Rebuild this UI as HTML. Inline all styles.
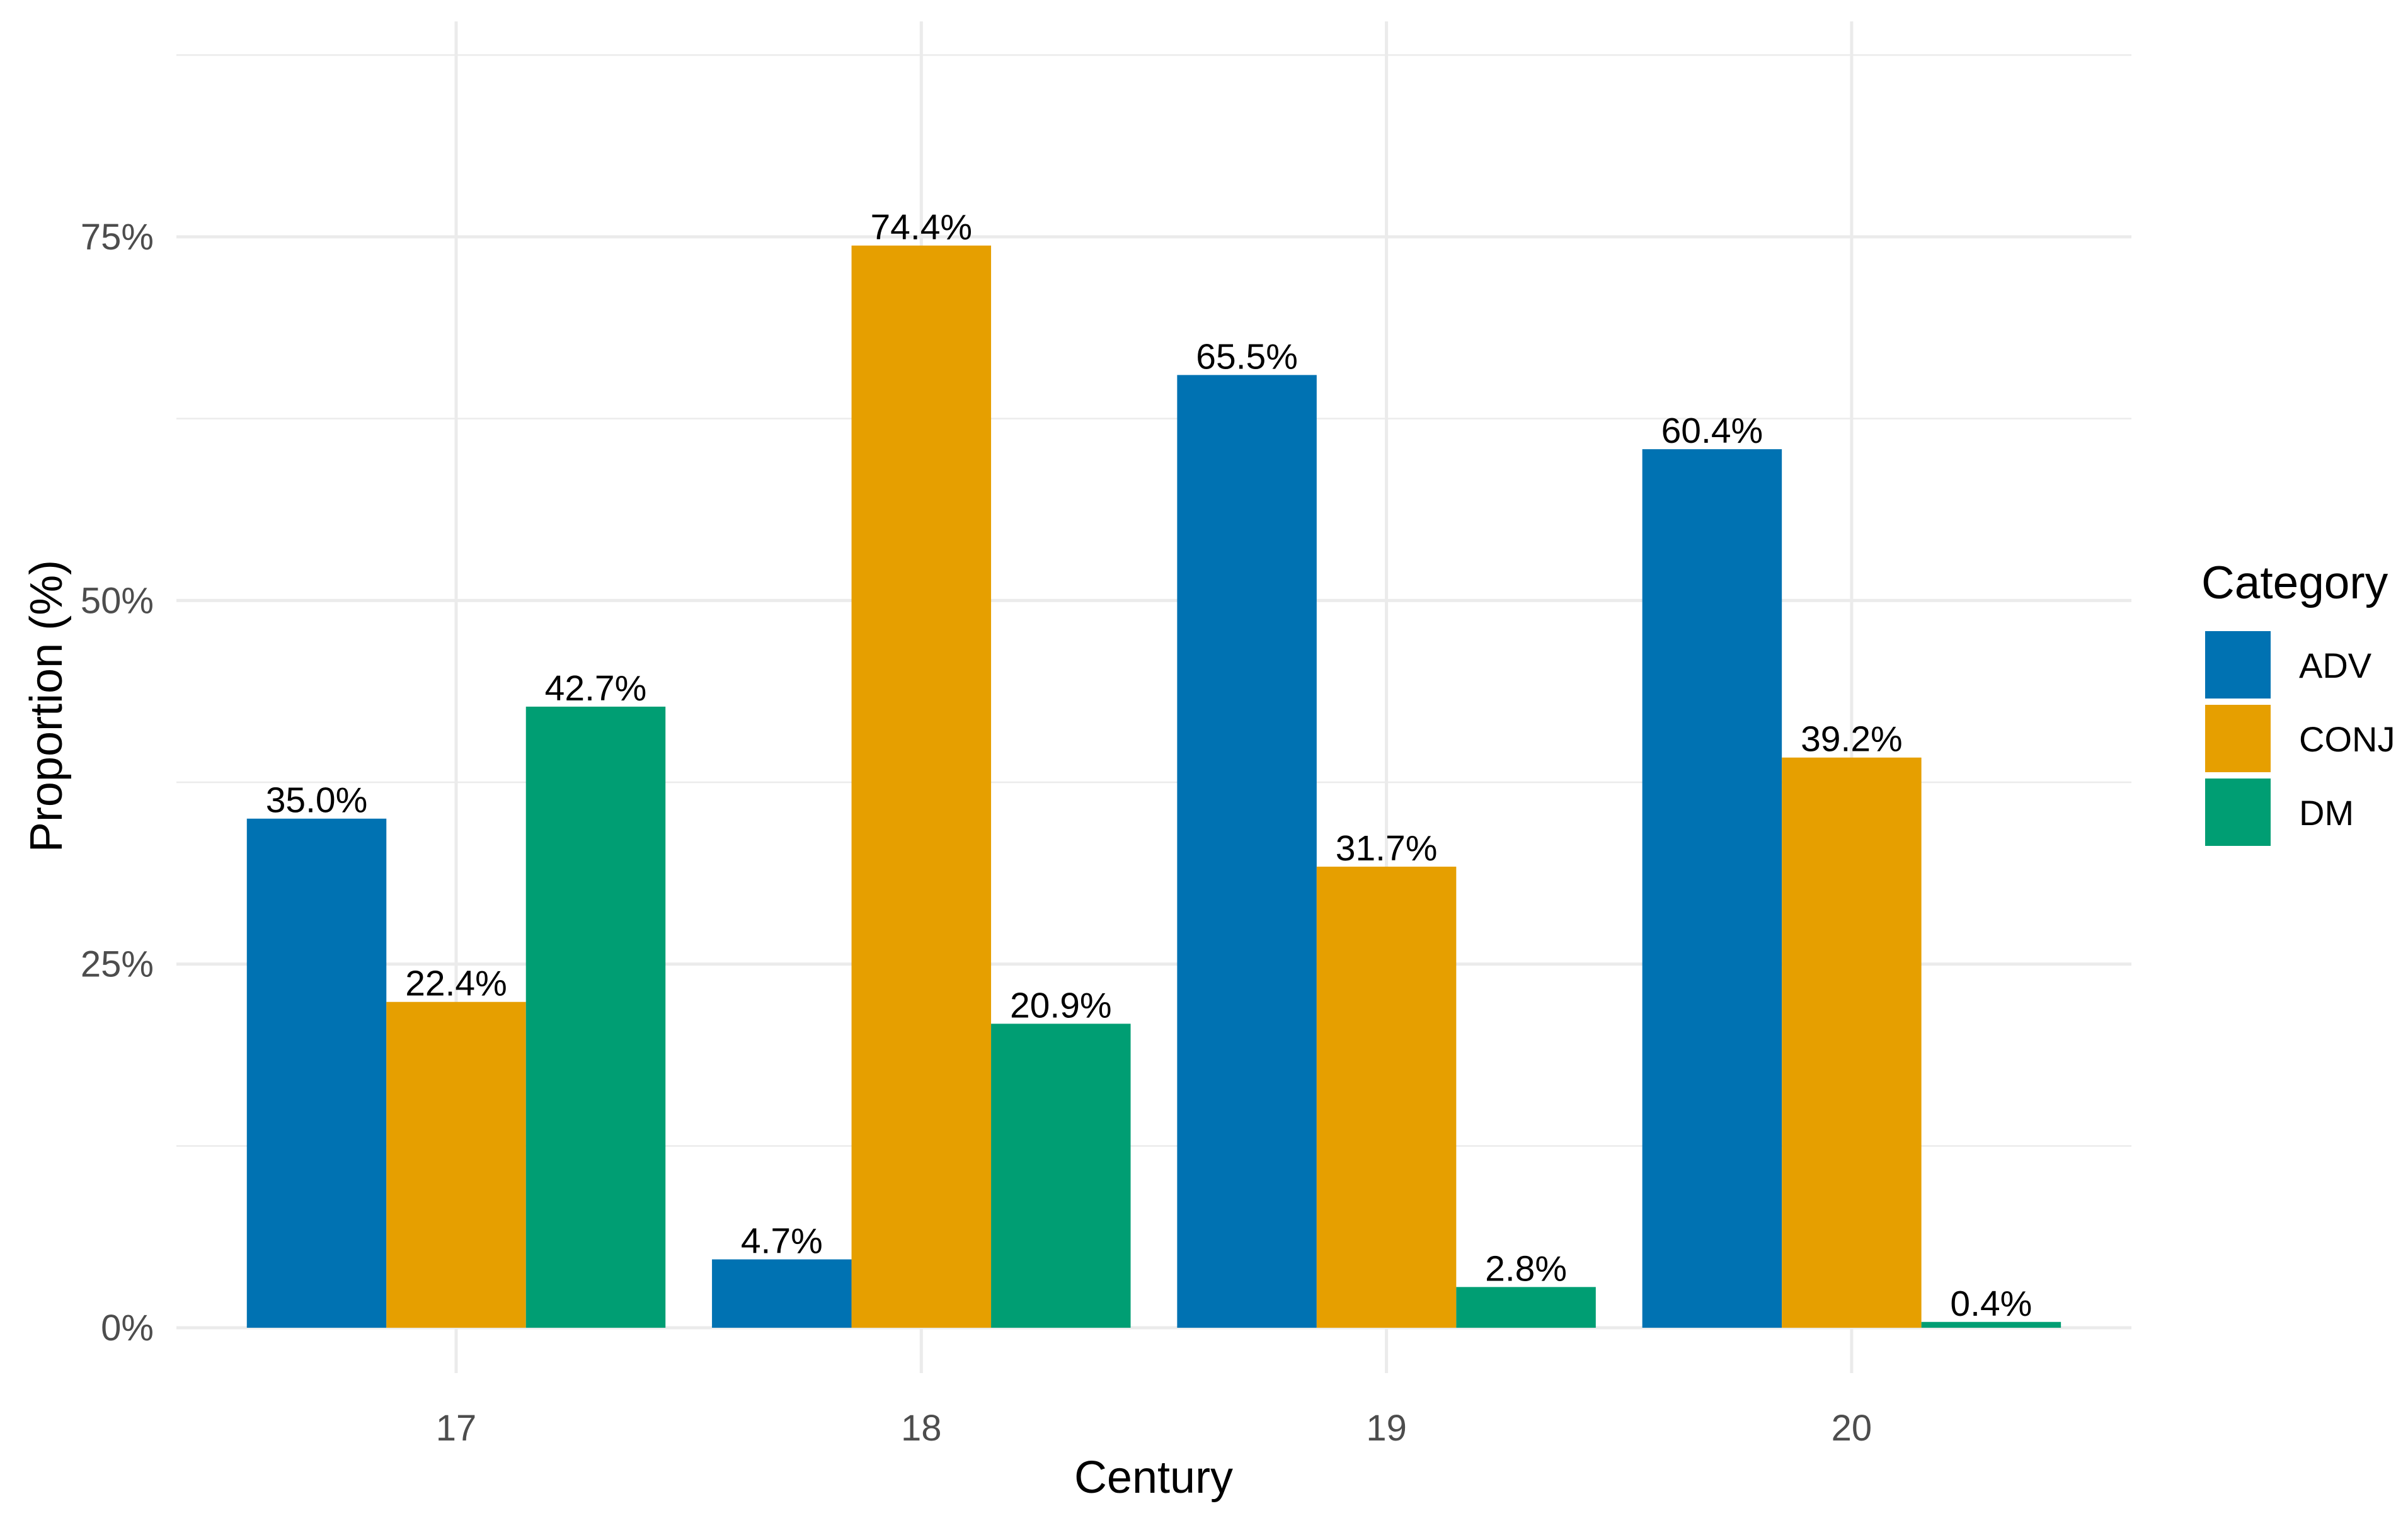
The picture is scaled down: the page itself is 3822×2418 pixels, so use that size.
<!DOCTYPE html>
<html><head><meta charset="utf-8"><style>
html,body{margin:0;padding:0;background:#fff;}
svg{display:block;font-family:"Liberation Sans",Arial,sans-serif;}
</style></head><body>
<svg id="chart" width="3822" height="2418" viewBox="0 0 3822 2418">
<g id="grid"></g>
<g id="bars"></g>
<g id="labels"></g>
<g id="axes"></g>
<text x="1831" y="2370" font-size="72" text-anchor="middle" fill="#000">Century</text>
<text transform="translate(98,1121) rotate(-90)" font-size="72" text-anchor="middle" fill="#000">Proportion (%)</text>
<g id="legend">
<text x="3494" y="950" font-size="73" fill="#000">Category</text>
</g>
</svg>
<script>
const categories = ["17","18","19","20"];
const seriesNames = ["ADV","CONJ","DM"];
const adv = [35.0, 4.7, 65.5, 60.4];
const conj = [22.4, 74.4, 31.7, 39.2];
const dm = [42.7, 20.9, 2.8, 0.4];
const yTicks = [0, 25, 50, 75];
const yTickLabels = ["0%","25%","50%","75%"];
const colors = ["#0072B2","#E69F00","#009E73"];
const series = [adv, conj, dm];

const NS = "http://www.w3.org/2000/svg";
const plotL = 280, plotR = 3383, plotT = 34, plotB = 2180;
const y0 = 2108, pxPer = (2108 - 376) / 75;
const yScale = v => y0 - v * pxPer;
const cx0 = 724, step = 738.3;
const xScale = i => cx0 + i * step;
const barW = step * 0.9 / 3;

function mk(tag, attrs, parent) {
  const e = document.createElementNS(NS, tag);
  for (const k in attrs) e.setAttribute(k, attrs[k]);
  parent.appendChild(e);
  return e;
}
const grid = document.getElementById('grid');
for (let i = 0; i < yTicks.length - 1; i++) {
  const v = (yTicks[i] + yTicks[i + 1]) / 2;
  const l = mk('line', {x1: plotL, x2: plotR, y1: yScale(v), y2: yScale(v), stroke: '#ebebeb', 'stroke-width': 2.5}, grid);
  
  
}
{
  const v = yTicks[yTicks.length - 1] + 12.5;
  const l = mk('line', {x1: plotL, x2: plotR, y1: yScale(v), y2: yScale(v), stroke: '#ebebeb', 'stroke-width': 2.5}, grid);
  
  
}
const axes = document.getElementById('axes');
yTicks.forEach((v, i) => {
  const l = mk('line', {x1: plotL, x2: plotR, y1: yScale(v), y2: yScale(v), stroke: '#ebebeb', 'stroke-width': 5}, grid);
  
  
  const t = mk('text', {x: 244, y: yScale(v) + 20, 'font-size': 58, 'text-anchor': 'end', fill: '#4d4d4d'}, axes);
  t.textContent = yTickLabels[i];
  
  
});
categories.forEach((c, i) => {
  const l = mk('line', {x1: xScale(i), x2: xScale(i), y1: plotT, y2: plotB, stroke: '#ebebeb', 'stroke-width': 5}, grid);
  
  
  const t = mk('text', {x: xScale(i), y: 2287, 'font-size': 58, 'text-anchor': 'middle', fill: '#4d4d4d'}, axes);
  t.textContent = c;
  
  
});
const bars = document.getElementById('bars');
const labels = document.getElementById('labels');
series.forEach((s, si) => {
  s.forEach((v, i) => {
    const x = xScale(i) - 1.5 * barW + si * barW;
    const r = mk('rect', {x: x, y: yScale(v), width: barW, height: y0 - yScale(v), fill: colors[si]}, bars);
    
    
    const t = mk('text', {x: x + barW / 2, y: yScale(v) - 10, 'font-size': 57, 'text-anchor': 'middle', fill: '#000'}, labels);
    t.textContent = v.toFixed(1) + '%';
    
    
  });
});
const legend = document.getElementById('legend');
seriesNames.forEach((n, i) => {
  const y = 1002 + i * 117;
  const r = mk('rect', {x: 3500, y: y, width: 104, height: 107, fill: colors[i]}, legend);
  
  
  const t = mk('text', {x: 3649, y: y + 74, 'font-size': 56, fill: '#000'}, legend);
  t.textContent = n;
  
  
});
</script>
</body></html>
